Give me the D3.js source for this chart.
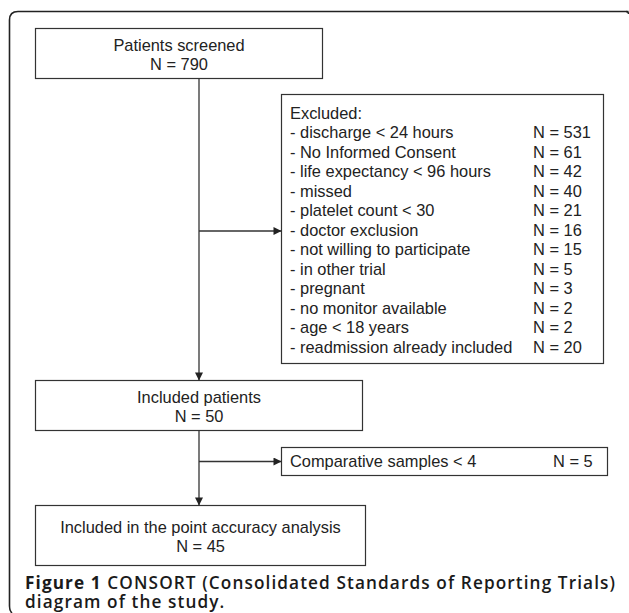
<!DOCTYPE html>
<html>
<head>
<meta charset="utf-8">
<script src="https://cdn.jsdelivr.net/npm/d3@7"></script>
<style>
  html, body { margin: 0; padding: 0; background: #fff; }
  svg { display: block; }
</style>
</head>
<body>
<svg id="chart" width="629" height="613"></svg>
<script>
// ---- data ----
const stageLabels = ["Patients screened", "Included patients", "Included in the point accuracy analysis"];
const stageCounts = [790, 50, 45];
const exclusionHeader = "Excluded:";
const exclusionReasons = [
  "- discharge < 24 hours",
  "- No Informed Consent",
  "- life expectancy < 96 hours",
  "- missed",
  "- platelet count < 30",
  "- doctor exclusion",
  "- not willing to participate",
  "- in other trial",
  "- pregnant",
  "- no monitor available",
  "- age < 18 years",
  "- readmission already included"
];
const exclusionCounts = [531, 61, 42, 40, 21, 16, 15, 5, 3, 2, 2, 20];
const secondExclusionLabels = ["Comparative samples < 4"];
const secondExclusionCounts = [5];
const captionBold = "Figure 1";
const captionLine1 = " CONSORT (Consolidated Standards of Reporting Trials)";
const captionLine2 = "diagram of the study.";

// ---- drawing ----
const svg = d3.select("#chart");
const stroke = "#333";
const textColor = "#222";
const font = "'Liberation Sans', Arial, Helvetica, sans-serif";
const fs = 16.4;

// outer frame
svg.append("path")
  .attr("d", "M628.5,11.5 H18 Q9.5,11.5 9.5,20 V606 Q9.5,611 12,613")
  .attr("fill", "none").attr("stroke", "#222").attr("stroke-width", 1.6);
svg.append("path")
  .attr("d", "M626,11.5 Q628.5,11.5 628.5,14")
  .attr("fill", "none").attr("stroke", "#222").attr("stroke-width", 1.4);

// arrow marker
const defs = svg.append("defs");
defs.append("marker")
  .attr("id", "arrow").attr("viewBox", "0 0 10 10")
  .attr("refX", 10).attr("refY", 5)
  .attr("markerWidth", 9).attr("markerHeight", 8)
  .attr("markerUnits", "userSpaceOnUse")
  .attr("orient", "auto")
  .append("path").attr("d", "M0,0 L10,5 L0,10 Z").attr("fill", "#222");

// stage boxes (main column)
const stageBoxes = [
  { x0: 35.5, x1: 322.5, y0: 28.5, y1: 78.5 },
  { x0: 35.5, x1: 362.5, y0: 380.5, y1: 430.5 },
  { x0: 35.5, x1: 365.5, y0: 505.5, y1: 565.5 }
];
const spineX = 199;

const stageG = svg.selectAll("g.stage")
  .data(stageLabels.map((l, i) => ({ label: l, n: stageCounts[i], box: stageBoxes[i] })))
  .join("g").attr("class", "stage");
stageG.append("rect")
  .attr("x", d => d.box.x0).attr("y", d => d.box.y0)
  .attr("width", d => d.box.x1 - d.box.x0).attr("height", d => d.box.y1 - d.box.y0)
  .attr("fill", "#fff").attr("stroke", stroke).attr("stroke-width", 1.2);
stageG.append("text")
  .attr("x", d => (d.box.x0 + d.box.x1) / 2)
  .attr("y", d => (d.box.y0 + d.box.y1) / 2 - 8)
  .attr("dy", "0.35em")
  .attr("text-anchor", "middle")
  .attr("font-family", font).attr("font-size", fs).attr("fill", textColor)
  .text(d => d.label);
stageG.append("text")
  .attr("x", d => (d.box.x0 + d.box.x1) / 2)
  .attr("y", d => (d.box.y0 + d.box.y1) / 2 + 11)
  .attr("dy", "0.35em")
  .attr("text-anchor", "middle")
  .attr("font-family", font).attr("font-size", fs).attr("fill", textColor)
  .text(d => "N = " + d.n);

// connectors
svg.append("line")
  .attr("x1", spineX).attr("x2", spineX)
  .attr("y1", stageBoxes[0].y1).attr("y2", stageBoxes[1].y0)
  .attr("stroke", stroke).attr("stroke-width", 1.3)
  .attr("marker-end", "url(#arrow)");
svg.append("line")
  .attr("x1", spineX).attr("x2", spineX)
  .attr("y1", stageBoxes[1].y1).attr("y2", stageBoxes[2].y0)
  .attr("stroke", stroke).attr("stroke-width", 1.3)
  .attr("marker-end", "url(#arrow)");

// exclusion box
const exBox = { x0: 281.5, x1: 603.5, y0: 94.5, y1: 363.5 };
svg.append("rect")
  .attr("x", exBox.x0).attr("y", exBox.y0)
  .attr("width", exBox.x1 - exBox.x0).attr("height", exBox.y1 - exBox.y0)
  .attr("fill", "#fff").attr("stroke", stroke).attr("stroke-width", 1.2);

const rowY = d3.scalePoint()
  .domain([exclusionHeader, ...exclusionReasons])
  .range([113, 347]);

svg.append("text")
  .attr("x", 290).attr("y", rowY(exclusionHeader)).attr("dy", "0.35em")
  .attr("font-family", font).attr("font-size", fs).attr("fill", textColor)
  .text(exclusionHeader);

const exRows = svg.selectAll("g.exrow")
  .data(exclusionReasons.map((r, i) => ({ r, n: exclusionCounts[i] })))
  .join("g").attr("class", "exrow");
exRows.append("text")
  .attr("x", 290).attr("y", d => rowY(d.r)).attr("dy", "0.35em")
  .attr("font-family", font).attr("font-size", fs).attr("fill", textColor)
  .text(d => d.r);
exRows.append("text")
  .attr("x", 533).attr("y", d => rowY(d.r)).attr("dy", "0.35em")
  .attr("font-family", font).attr("font-size", fs).attr("fill", textColor)
  .text(d => "N = " + d.n);

// arrow to exclusion box
const exArrowY = rowY("- doctor exclusion") + 1;
svg.append("line")
  .attr("x1", spineX).attr("x2", exBox.x0)
  .attr("y1", exArrowY).attr("y2", exArrowY)
  .attr("stroke", stroke).attr("stroke-width", 1.3)
  .attr("marker-end", "url(#arrow)");

// second exclusion box
const ex2Box = { x0: 281.5, x1: 607.5, y0: 447.5, y1: 475.5 };
svg.append("rect")
  .attr("x", ex2Box.x0).attr("y", ex2Box.y0)
  .attr("width", ex2Box.x1 - ex2Box.x0).attr("height", ex2Box.y1 - ex2Box.y0)
  .attr("fill", "#fff").attr("stroke", stroke).attr("stroke-width", 1.2);
const ex2Y = (ex2Box.y0 + ex2Box.y1) / 2;
svg.append("text")
  .attr("x", 290).attr("y", ex2Y).attr("dy", "0.35em")
  .attr("font-family", font).attr("font-size", fs).attr("fill", textColor)
  .text(secondExclusionLabels[0]);
svg.append("text")
  .attr("x", 553).attr("y", ex2Y).attr("dy", "0.35em")
  .attr("font-family", font).attr("font-size", fs).attr("fill", textColor)
  .text("N = " + secondExclusionCounts[0]);
svg.append("line")
  .attr("x1", spineX).attr("x2", ex2Box.x0)
  .attr("y1", ex2Y).attr("y2", ex2Y)
  .attr("stroke", stroke).attr("stroke-width", 1.3)
  .attr("marker-end", "url(#arrow)");

// caption
const capFont = "'Open Sans', 'Noto Sans', sans-serif";
const capX = 25;
const capFs = 17.2;
const cap1 = svg.append("text")
  .attr("x", capX).attr("y", 589)
  .attr("font-family", capFont).attr("font-size", capFs).attr("fill", "#1a1a1a");
cap1.append("tspan").attr("font-weight", 700).text(captionBold);
cap1.append("tspan").attr("font-weight", 600).text(captionLine1);
const targetW = 615 - capX;
const w = cap1.node().getComputedTextLength();
const nChars = (captionBold + captionLine1).length;
const ls = (targetW - w) / (nChars - 1);
cap1.attr("letter-spacing", ls);
svg.append("text")
  .attr("x", capX).attr("y", 608)
  .attr("font-family", capFont).attr("font-size", capFs).attr("font-weight", 600)
  .attr("letter-spacing", ls).attr("fill", "#1a1a1a")
  .text(captionLine2);
</script>
</body>
</html>
